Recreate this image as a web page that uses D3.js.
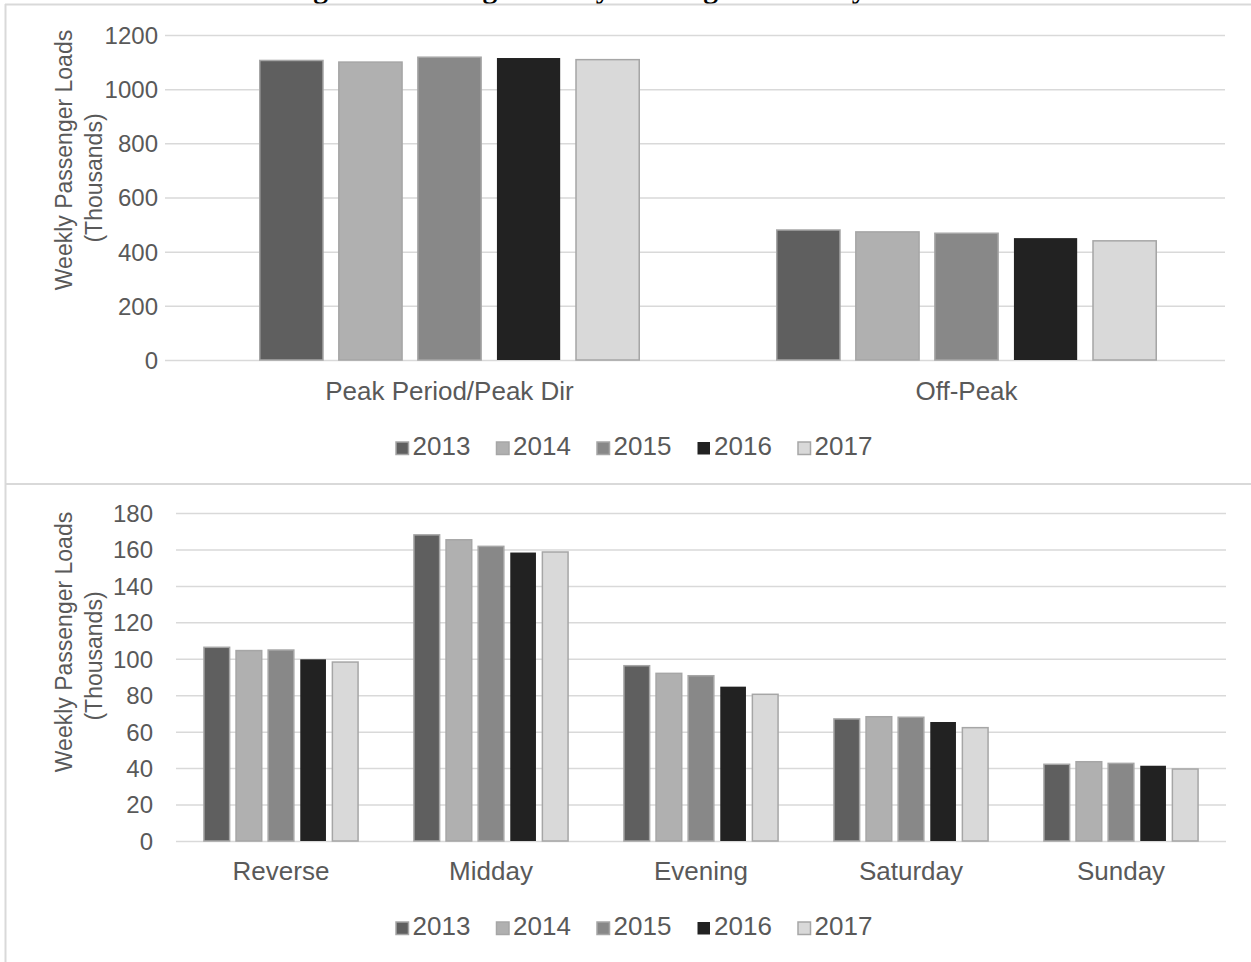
<!DOCTYPE html>
<html>
<head>
<meta charset="utf-8">
<script src="https://cdn.jsdelivr.net/npm/d3@7"></script>
<style>
  html, body { margin: 0; padding: 0; background: #fff; }
  svg { display: block; }
  text { font-family: "Liberation Sans", Arial, sans-serif; fill: #595959; }
</style>
</head>
<body>
<svg id="chart" width="1251" height="962"></svg>
<script>
// Years shown as series
const years = ["2013", "2014", "2015", "2016", "2017"];
const yearColors = ["#5f5f5f", "#b0b0b0", "#888888", "#222222", "#d9d9d9"];

// Upper panel: weekday peak vs off-peak (thousands of passengers)
const topCategories = ["Peak Period/Peak Dir", "Off-Peak"];
const top2013 = [1106, 480];
const top2014 = [1100, 473];
const top2015 = [1118, 468];
const top2016 = [1115, 450];
const top2017 = [1109, 440];
const topTicks = [0, 200, 400, 600, 800, 1000, 1200];

// Lower panel: other time periods (thousands of passengers)
const bottomCategories = ["Reverse", "Midday", "Evening", "Saturday", "Sunday"];
const bottom2013 = [106.3, 168.0, 96.2, 67.0, 42.1];
const bottom2014 = [104.5, 165.3, 92.0, 68.2, 43.5];
const bottom2015 = [104.8, 161.7, 90.7, 67.9, 42.6];
const bottom2016 = [99.7, 158.3, 84.7, 65.3, 41.3];
const bottom2017 = [98.2, 158.6, 80.5, 62.2, 39.5];
const bottomTicks = [0, 20, 40, 60, 80, 100, 120, 140, 160, 180];

const axisTitle = ["Weekly Passenger Loads", "(Thousands)"];
const figureTitle = "Figure 3: Average Weekly Passenger Loads by Time Period";

const svg = d3.select("#chart");
const frame = "#d9d9d9";

// Figure caption sits above the frame
svg.append("text")
  .attr("x", 287).attr("y", -2)
  .style("font-family", "'Liberation Serif', 'Times New Roman', serif")
  .style("font-weight", "bold")
  .style("font-size", "29.5px")
  .style("fill", "#000")
  .text(figureTitle);

// Frame lines
svg.append("line").attr("x1", 5).attr("x2", 1251).attr("y1", 4.5).attr("y2", 4.5)
  .attr("stroke", frame).attr("stroke-width", 2);
svg.append("line").attr("x1", 5.5).attr("x2", 5.5).attr("y1", 4).attr("y2", 962)
  .attr("stroke", frame).attr("stroke-width", 2);
svg.append("line").attr("x1", 5).attr("x2", 1251).attr("y1", 484).attr("y2", 484)
  .attr("stroke", frame).attr("stroke-width", 2);

function drawPanel(cfg) {
  const g = svg.append("g");
  const x0 = d3.scaleBand()
    .domain(cfg.categories)
    .range([cfg.barLeft, cfg.right])
    .paddingInner(0.266)
    .paddingOuter(0.133);
  const x1 = d3.scaleBand()
    .domain(years)
    .range([0, x0.bandwidth()])
    .paddingInner(0.2);
  const y = d3.scaleLinear()
    .domain([0, cfg.ticks[cfg.ticks.length - 1]])
    .range([cfg.bottom, cfg.top]);

  // Gridlines + tick labels
  const yAxis = d3.axisLeft(y)
    .tickValues(cfg.ticks)
    .tickSize(-(cfg.right - cfg.left))
    .tickPadding(cfg.left - cfg.labelRight)
    .tickFormat(d3.format("d"));
  const ya = g.append("g").attr("transform", `translate(${cfg.left},0)`).call(yAxis);
  ya.select(".domain").remove();
  ya.selectAll(".tick line").attr("stroke", "#d9d9d9").attr("stroke-width", 1.5);
  ya.selectAll(".tick text")
    .style("font-size", "24px")
    .style("fill", "#595959")
    .attr("dy", "0.35em");

  // Bars
  const series = cfg.series;
  const groups = g.selectAll("g.cat")
    .data(cfg.categories)
    .join("g")
    .attr("class", "cat")
    .attr("transform", d => `translate(${x0(d)},0)`);
  groups.selectAll("rect")
    .data((d, i) => years.map((yr, k) => ({ yr, k, v: series[k][i] })))
    .join("rect")
    .attr("x", d => x1(d.yr))
    .attr("width", x1.bandwidth())
    .attr("y", d => y(d.v))
    .attr("height", d => y(0) - y(d.v))
    .attr("fill", d => yearColors[d.k])
    .attr("stroke", d => d.yr === "2016" ? "none" : "#a6a6a6")
    .attr("stroke-width", 1.5);

  // Category labels
  g.selectAll("text.cat")
    .data(cfg.categories)
    .join("text")
    .attr("class", "cat")
    .attr("x", d => x0(d) + x0.bandwidth() / 2)
    .attr("y", cfg.catY)
    .attr("text-anchor", "middle")
    .style("font-size", "26px")
    .text(d => d);

  // Axis title (two rotated lines)
  axisTitle.forEach((t, i) => {
    g.append("text")
      .attr("transform", `translate(${72 + i * 30},${cfg.titleY[i]}) rotate(-90)`)
      .attr("text-anchor", "middle")
      .style("font-size", "23px")
      .text(t);
  });

  // Legend
  const leg = g.append("g");
  years.forEach((yr, k) => {
    const lx = cfg.legendX + k * 100.5;
    leg.append("rect")
      .attr("x", lx).attr("y", cfg.legendY - 13)
      .attr("width", 12.5).attr("height", 12.5)
      .attr("fill", yearColors[k])
      .attr("stroke", yr === "2016" ? "none" : "#a6a6a6")
      .attr("stroke-width", 1.5);
    leg.append("text")
      .attr("x", lx + 16.5).attr("y", cfg.legendY)
      .style("font-size", "26px")
      .text(yr);
  });
}

drawPanel({
  categories: topCategories,
  series: [top2013, top2014, top2015, top2016, top2017],
  ticks: topTicks,
  left: 165, barLeft: 191, right: 1225, top: 35, bottom: 360,
  labelRight: 158,
  catY: 400,
  titleY: [160, 178],
  legendX: 396, legendY: 455
});

drawPanel({
  categories: bottomCategories,
  series: [bottom2013, bottom2014, bottom2015, bottom2016, bottom2017],
  ticks: bottomTicks,
  left: 176, barLeft: 176, right: 1226, top: 513, bottom: 841,
  labelRight: 153,
  catY: 880,
  titleY: [642, 656],
  legendX: 396, legendY: 935
});
</script>
</body>
</html>
